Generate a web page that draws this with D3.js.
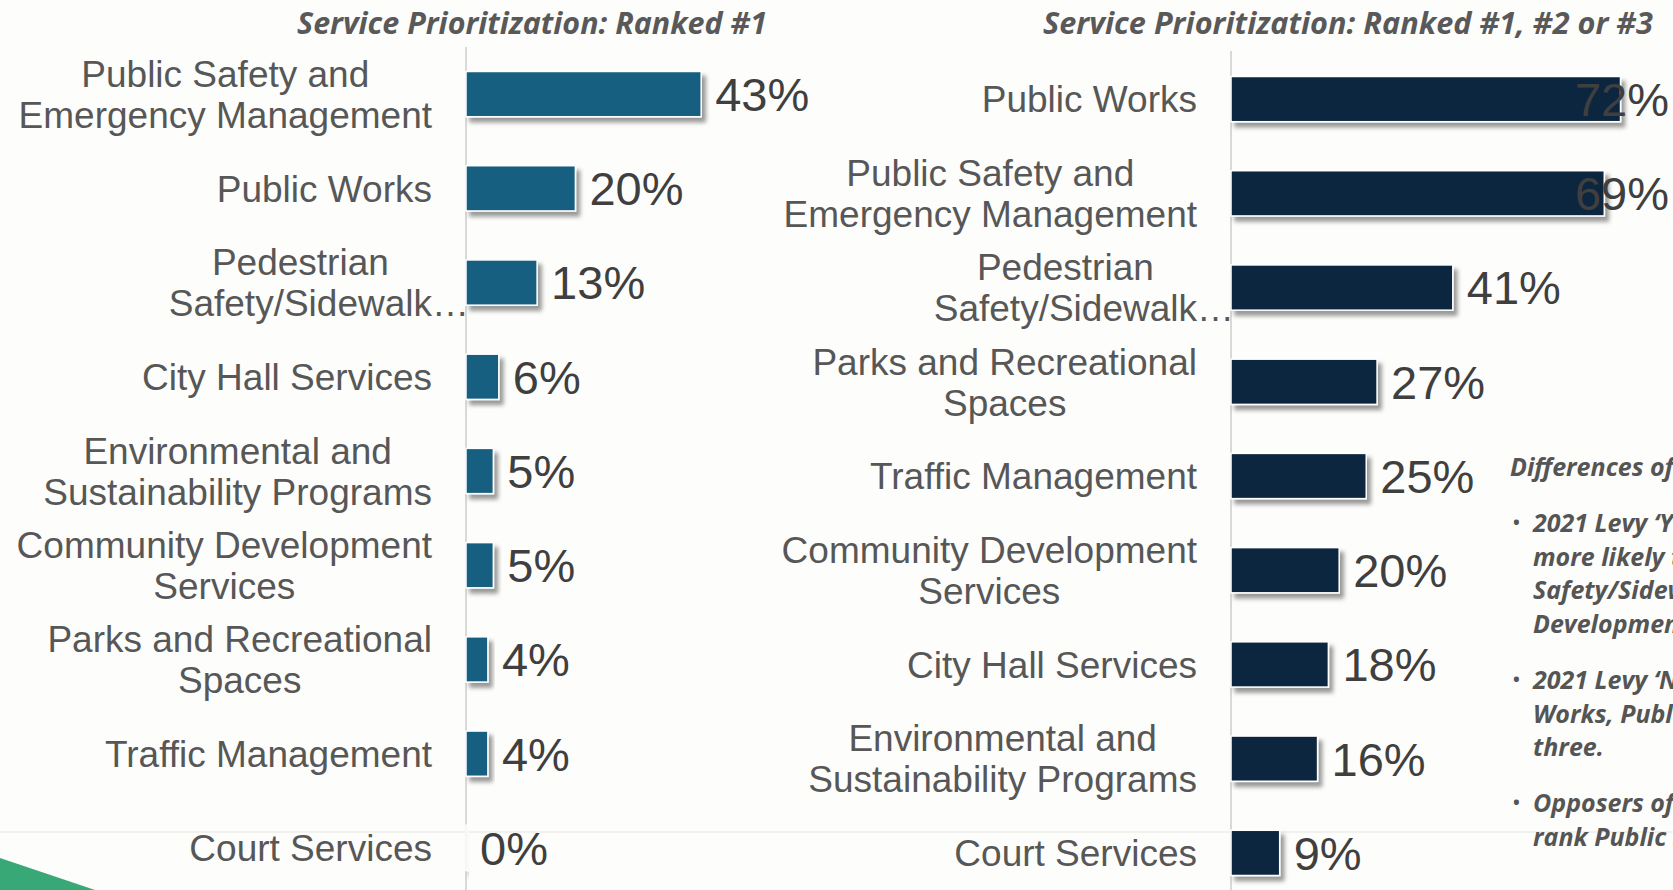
<!DOCTYPE html>
<html>
<head>
<meta charset="utf-8">
<script src="https://cdn.jsdelivr.net/npm/d3@7"></script>
<style>
  body { margin: 0; background: #fdfdfb; overflow: hidden; }
  svg { display: block; }
</style>
</head>
<body>
<script>
// datos del grafico izquierdo (ranked #1)
var catsLeft = [
  ["Public Safety and", "Emergency Management"],
  ["Public Works"],
  ["Pedestrian", "Safety/Sidewalk…"],
  ["City Hall Services"],
  ["Environmental and", "Sustainability Programs"],
  ["Community Development", "Services"],
  ["Parks and Recreational", "Spaces"],
  ["Traffic Management"],
  ["Court Services"]
]
var valsLeft = [43, 20, 13, 6, 5, 5, 4, 4, 0]

// datos del grafico derecho (ranked #1, #2 or #3)
var catsRight = [
  ["Public Works"],
  ["Public Safety and", "Emergency Management"],
  ["Pedestrian", "Safety/Sidewalk…"],
  ["Parks and Recreational", "Spaces"],
  ["Traffic Management"],
  ["Community Development", "Services"],
  ["City Hall Services"],
  ["Environmental and", "Sustainability Programs"],
  ["Court Services"]
]
var valsRight = [72, 69, 41, 27, 25, 20, 18, 16, 9]

var titleLeft = "Service Prioritization: Ranked #1"
var titleRight = "Service Prioritization: Ranked #1, #2 or #3"

// notas a la derecha (se cortan en el borde, como en el original)
var noteHead = "Differences of 2021 Levy supporters and opposers"
var noteBullets = [
  ["2021 Levy ‘Yes’ voters are", "more likely to rank Pedestrian", "Safety/Sidewalks and Community", "Development Services in the top three."],
  ["2021 Levy ‘No’ voters rank Public", "Works, Public Safety higher in the top", "three."],
  ["Opposers of the levy are more likely to", "rank Public Safety as their first priority."]
]

var width = 1673
var height = 890

var svg = d3.select("body").append("svg")
  .attr("width", width)
  .attr("height", height)

var defs = svg.append("defs")
defs.append("filter")
  .attr("id", "sombra")
  .attr("x", "-20%").attr("y", "-30%")
  .attr("width", "150%").attr("height", "180%")
  .append("feDropShadow")
  .attr("dx", 4).attr("dy", 5)
  .attr("stdDeviation", 2)
  .attr("flood-color", "#000")
  .attr("flood-opacity", 0.4)

// linea tenue horizontal
svg.append("line")
  .attr("x1", 0).attr("x2", width)
  .attr("y1", 832).attr("y2", 832)
  .attr("stroke", "#ececea")
  .attr("stroke-width", 1.5)

// triangulo verde abajo a la izquierda
svg.append("path")
  .attr("d", "M0,858 L95,890 L0,890 Z")
  .attr("fill", "#38a877")

function pintarGrafico(cats, vals, opts) {
  var keys = cats.map(function (c) { return c.join(" ") })

  var escalaX = d3.scaleLinear()
    .domain([0, 100])
    .range([opts.x0, opts.x0 + opts.pxPer * 100])

  var escalaY = d3.scaleBand()
    .domain(keys)
    .range([opts.yTop, opts.yTop + 848])
    .paddingInner(0.52)
    .paddingOuter(0.26)

  var g = svg.append("g")

  // eje vertical
  g.append("line")
    .attr("x1", opts.x0).attr("x2", opts.x0)
    .attr("y1", opts.axisTop).attr("y2", height)
    .attr("stroke", "#d9d9d9")
    .attr("stroke-width", 2)

  // titulo
  g.append("text")
    .attr("x", opts.titleX)
    .attr("y", 34)
    .attr("textLength", opts.titleW)
    .attr("lengthAdjust", "spacingAndGlyphs")
    .style("font-family", "'Open Sans', sans-serif")
    .style("font-style", "italic")
    .style("font-weight", 700)
    .style("font-size", "31px")
    .attr("fill", "#595959")
    .text(opts.title)

  // barras
  g.selectAll("rect.bar")
    .data(vals)
    .enter()
    .append("rect")
    .attr("class", "bar")
    .attr("x", escalaX(0))
    .attr("y", function (d, i) { return escalaY(keys[i]) })
    .attr("width", function (d) { return Math.max(escalaX(d) - escalaX(0), 2) })
    .attr("height", escalaY.bandwidth())
    .attr("fill", function (d) { return d > 0 ? opts.color : "#e6e6e6" })
    .attr("stroke", "#fff")
    .attr("stroke-width", 1.5)
    .attr("filter", "url(#sombra)")

  // etiquetas de valor
  g.selectAll("text.valor")
    .data(vals)
    .enter()
    .append("text")
    .attr("class", "valor")
    .attr("y", function (d, i) { return escalaY(keys[i]) + escalaY.bandwidth() / 2 })
    .attr("dy", "0.36em")
    .style("font-family", "'Liberation Sans', Arial, sans-serif")
    .style("font-size", "47px")
    .attr("fill", "#3f3f3f")
    .text(function (d) { return d + "%" })
    .attr("x", function (d) {
      var w = this.getComputedTextLength()
      var x = escalaX(d) + 14
      if (x + w > width - 4) x = width - 4 - w
      return x
    })

  // etiquetas de categoria (bloques centrados, borde derecho fijo)
  cats.forEach(function (lines, i) {
    var cy = escalaY(keys[i]) + escalaY.bandwidth() / 2
    var t = g.append("text")
      .style("font-family", "'Liberation Sans', Arial, sans-serif")
      .style("font-size", "37px")
      .attr("fill", "#575757")
    var anchos = lines.map(function (l) {
      var tmp = t.append("tspan").text(l.replace("…", ""))
      var w = tmp.node().getComputedTextLength()
      tmp.remove()
      return w
    })
    var maxW = d3.max(anchos)
    var centro = opts.labelRight - maxW / 2
    var n = lines.length
    lines.forEach(function (l, j) {
      t.append("tspan")
        .attr("x", centro - anchos[j] / 2)
        .attr("y", cy + (j - (n - 1) / 2) * 41)
        .attr("dy", "0.36em")
        .text(l)
    })
  })
}

pintarGrafico(catsLeft, valsLeft, {
  x0: 466, pxPer: 5.47, yTop: 47, axisTop: 47,
  labelRight: 432, color: "#175e80",
  title: titleLeft, titleX: 297, titleW: 470
})

pintarGrafico(catsRight, valsRight, {
  x0: 1231, pxPer: 5.41, yTop: 52, axisTop: 51,
  labelRight: 1197, color: "#112840",
  title: titleRight, titleX: 1043, titleW: 610
})

// notas
var notas = svg.append("g")
  .style("font-family", "'Open Sans', sans-serif")
  .style("font-style", "italic")
  .style("font-weight", 700)
  .style("font-size", "25px")
  .attr("fill", "#555")

notas.append("text")
  .attr("x", 1510).attr("y", 476)
  .text(noteHead)

var bulletY = [523, 680, 803]
noteBullets.forEach(function (b, i) {
  notas.append("text")
    .attr("x", 1513).attr("y", bulletY[i] + 6)
    .style("font-style", "normal")
    .style("font-size", "18px")
    .text("•")
  b.forEach(function (l, j) {
    notas.append("text")
      .attr("x", 1533)
      .attr("y", bulletY[i] + j * 33.5 + 9)
      .text(l)
  })
})
</script>
</body>
</html>
